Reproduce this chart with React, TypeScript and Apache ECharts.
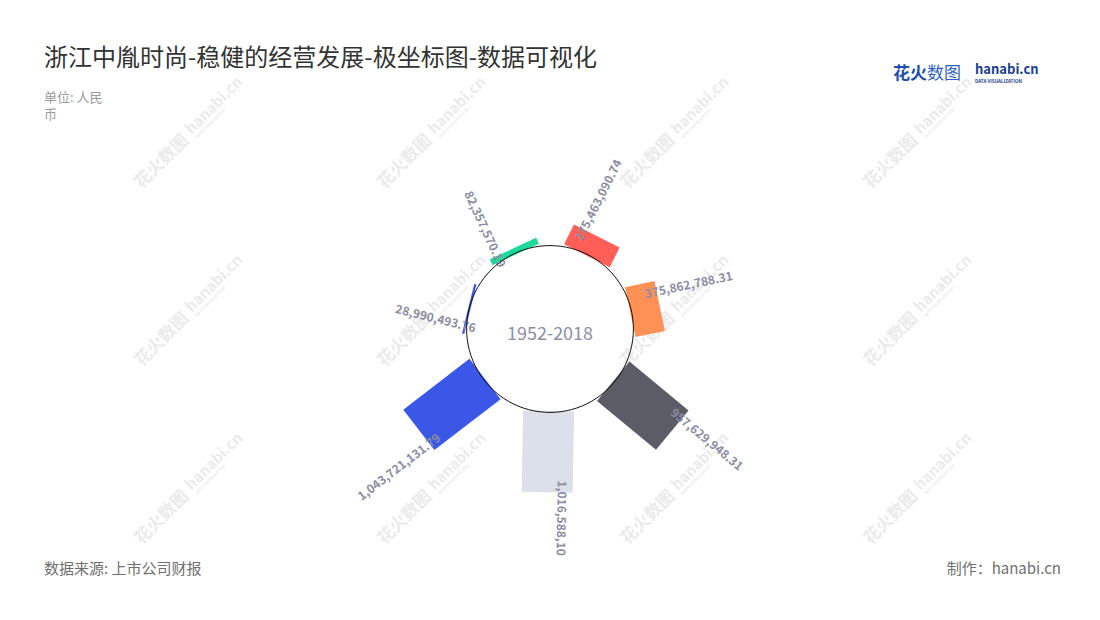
import React, { useEffect, useRef } from 'react';
import * as echarts from 'echarts';

// ---------- texts ----------
const TITLE = '浙江中胤时尚-稳健的经营发展-极坐标图-数据可视化';
const UNIT = '单位: 人民币';
const SOURCE = '数据来源: 上市公司财报';
const CREDIT = '制作：hanabi.cn';
const CENTER_LABEL = '1952-2018';

// ---------- data ----------
const categories = ['项目一', '项目二', '项目三', '项目四', '项目五', '项目六', '项目七'];
const values = [275463090.74, 375862788.31, 957629948.31, 1016588100.0, 1043721131.79, 28990493.76, 82357570.19];
const colors = ['#ff5f57', '#ff9157', '#5b5c66', '#dce0ea', '#3a57e8', '#3a57e8', '#1ed99b'];
const radiusRange = [0, 1200000000];

// ---------- layout constants ----------
const CX = 550;
const CY = 329;
const INNER_R = 82;
const OUTER_R = 178;
const BAR_HALF = 25.5;
const LABEL_INSET = 12;
const LABEL_SHIFT = 16;
const LABEL_CLIP_BOTTOM = 564;
const FONT = '"Noto Sans CJK SC", "Noto Sans", sans-serif';

const fmt = (v: number) =>
  v.toLocaleString('en-US', { minimumFractionDigits: 2, maximumFractionDigits: 2 });

const renderItem = (params: any, api: any) => {
  const idx = api.value(1);
  const val = api.value(0);
  const p0 = api.coord([0, idx]);
  const p1 = api.coord([val, idx]);
  const cs = params.coordSys;
  let ux = p0[0] - cs.cx;
  let uy = p0[1] - cs.cy;
  const l = Math.hypot(ux, uy) || 1;
  ux /= l;
  uy /= l;
  const tx = -uy;
  const ty = ux; // clockwise tangent
  const h = BAR_HALF;
  const pts = [
    [p0[0] - h * tx, p0[1] - h * ty],
    [p0[0] + h * tx, p0[1] + h * ty],
    [p1[0] + h * tx, p1[1] + h * ty],
    [p1[0] - h * tx, p1[1] - h * ty],
  ];
  let a = (Math.atan2(ux, -uy) * 180) / Math.PI;
  if (a < 0) a += 360;
  const flip = a > 190;
  const rotDeg = flip ? 270 - a : 90 - a;
  const ax = p1[0] - LABEL_INSET * ux - LABEL_SHIFT * tx;
  const ay = p1[1] - LABEL_INSET * uy - LABEL_SHIFT * ty;
  let maxW = 400;
  if (uy > 0.2) maxW = (LABEL_CLIP_BOTTOM - ay) / uy;
  return {
    type: 'group',
    children: [
      {
        type: 'polygon',
        shape: { points: pts },
        style: { fill: colors[params.dataIndex] },
      },
      {
        type: 'text',
        x: ax,
        y: ay,
        rotation: (rotDeg * Math.PI) / 180,
        style: {
          text: fmt(val),
          fill: '#8c8ca3',
          font: `bold 12px ${FONT}`,
          align: flip ? 'right' : 'left',
          textAlign: flip ? 'right' : 'left',
          verticalAlign: 'middle',
          textVerticalAlign: 'middle',
          width: maxW,
          overflow: 'truncate',
          ellipsis: '',
        },
      },
    ],
  };
};

const wmXs = [187, 430, 673, 916];
const wmYs = [133, 311, 489];

const wmText = (text: string, x: number, y: number, font: string) => ({
  type: 'text',
  x,
  y,
  style: {
    text,
    fill: '#ebebeb',
    font,
    align: 'left',
    textAlign: 'left',
    verticalAlign: 'middle',
    textVerticalAlign: 'middle',
  },
});

const buildWatermarks = () => {
  const out: any[] = [];
  wmYs.forEach((y) =>
    wmXs.forEach((x) => {
      out.push({
        type: 'group',
        x,
        y,
        rotation: Math.PI / 4,
        z: -10,
        silent: true,
        children: [
          wmText('花火数图', -72, 0, `bold 17px ${FONT}`),
          wmText('hanabi.cn', 2, -2, `bold 15px ${FONT}`),
          wmText('DATA VISUALIZATION', 3, 9, `bold 4px ${FONT}`),
        ],
      });
    })
  );
  return out;
};

const txt = (text: string, x: number, y: number, font: string, fill: string, align = 'left', extra: any = {}) => ({
  type: 'text',
  x,
  y,
  z: 50,
  style: {
    text,
    fill,
    font,
    align,
    textAlign: align,
    verticalAlign: 'middle',
    textVerticalAlign: 'middle',
    ...extra,
  },
});

export default function App() {
  const ref = useRef<HTMLDivElement>(null);
  useEffect(() => {
    if (!ref.current) return;
    const chart = echarts.init(ref.current, undefined, { renderer: 'svg' });
    chart.setOption({
      animation: false,
      backgroundColor: '#ffffff',
      textStyle: { fontFamily: FONT },
      polar: [
        { center: [CX, CY], radius: [INNER_R, OUTER_R] },
        { center: [CX, CY], radius: [0, 83.4] },
      ],
      angleAxis: [
        {
          polarIndex: 0,
          type: 'category',
          data: categories,
          startAngle: 89,
          clockwise: true,
          show: false,
        },
        {
          polarIndex: 1,
          type: 'value',
          min: 0,
          max: 360,
          z: 10,
          axisLine: { show: true, lineStyle: { color: '#111111', width: 1 } },
          axisTick: { show: false },
          axisLabel: { show: false },
          splitLine: { show: false },
        },
      ],
      radiusAxis: [
        { polarIndex: 0, type: 'value', min: radiusRange[0], max: radiusRange[1], show: false },
        { polarIndex: 1, type: 'value', show: false },
      ],
      series: [
        {
          type: 'custom',
          coordinateSystem: 'polar',
          polarIndex: 0,
          renderItem,
          encode: { radius: 0, angle: 1 },
          data: values.map((v, i) => [v, i]),
          z: 5,
        },
      ],
      graphic: [
        ...buildWatermarks(),
        txt(TITLE, 44, 55, `24px ${FONT}`, '#333333'),
        txt(UNIT, 44, 88, `13px ${FONT}`, '#9a9a9a', 'left', {
          width: 64,
          overflow: 'break',
          lineHeight: 17,
          verticalAlign: 'top',
          textVerticalAlign: 'top',
        }),
        txt(SOURCE, 44, 567, `15px ${FONT}`, '#707070'),
        txt(CREDIT, 1061, 567, `15px ${FONT}`, '#707070', 'right'),
        txt(CENTER_LABEL, CX, 332, `18px ${FONT}`, '#8e8ea6', 'center'),
        txt('花火', 893, 71, `bold 17px ${FONT}`, '#1c4fae'),
        txt('数图', 927, 71, `17px ${FONT}`, '#2f62c0'),
        txt('hanabi.cn', 975, 68, `bold 13px ${FONT}`, '#1b3f8f'),
        txt('DATA VISUALIZATION', 975, 80.5, `bold 4.6px ${FONT}`, '#1b3f8f'),
      ],
    });
    return () => chart.dispose();
  }, []);
  return (
    <div
      ref={ref}
      style={{ position: 'absolute', left: 0, top: 0, width: 1100, height: 620 }}
    />
  );
}
